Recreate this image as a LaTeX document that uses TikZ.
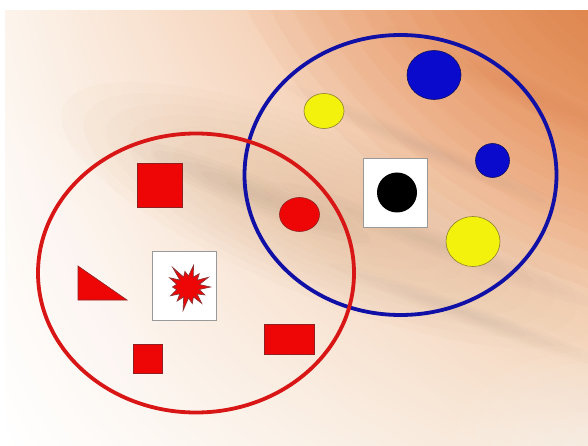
\documentclass[tikz,border=0pt]{standalone}
\usetikzlibrary{shadings}
\definecolor{bgUL}{HTML}{FCF4EC}
\definecolor{bgUR}{HTML}{EDA777}
\definecolor{bgLR}{HTML}{F6E4D2}
\definecolor{bgOr}{HTML}{E07A3E}
\definecolor{bgMid}{HTML}{DDB38D}
\definecolor{streak}{HTML}{A89280}
\definecolor{redF}{HTML}{EE0606}
\definecolor{redE}{HTML}{8E2020}
\definecolor{blueF}{HTML}{0A0ACC}
\definecolor{blueE}{HTML}{10105A}
\definecolor{yelF}{HTML}{F2F20C}
\definecolor{yelE}{HTML}{8C8030}
\definecolor{ringR}{HTML}{D81616}
\definecolor{ringB}{HTML}{1010A6}
\tikzset{
  ringred/.style={draw=ringR, line width=3.8pt},
  ringblue/.style={draw=ringB, line width=3.8pt},
  redshape/.style={fill=redF, draw=redE, line width=0.6pt},
  blueshape/.style={fill=blueF, draw=blueE, line width=0.6pt},
  yelshape/.style={fill=yelF, draw=yelE, line width=0.6pt},
  framebox/.style={fill=white, draw=gray!80, line width=0.8pt}
}
\begin{document}
\begin{tikzpicture}[x=1pt,y=-1pt]
\useasboundingbox (0,0) rectangle (588,446);
\fill[white] (0,0) rectangle (588,446);
% background
\begin{scope}
  \clip (5,11) rectangle (588,446);
  \shade[upper left=bgUL, upper right=bgUR, lower left=white, lower right=bgLR] (5,11) rectangle (588,446);
  % orange glow toward the upper right
  \foreach \s in {1,...,16}
    \fill[bgOr, fill opacity=0.06] (610,0) ellipse [x radius=27*\s, y radius=17*\s, rotate=-30];
  % warm middle band
  \foreach \s in {1,...,12}
    \fill[bgMid, fill opacity=0.05] (330,215) ellipse [x radius=24*\s, y radius=7*\s, rotate=-22];
  % faint streaks
  \foreach \s in {1,...,5}{
    \fill[streak, fill opacity=0.05] (250,192) ellipse [x radius=26*\s, y radius=3.5*\s, rotate=-22];
    \fill[streak, fill opacity=0.04] (440,245) ellipse [x radius=34*\s, y radius=2.5*\s, rotate=-21];
    \fill[streak, fill opacity=0.035] (470,315) ellipse [x radius=30*\s, y radius=2*\s, rotate=-20];
    \fill[streak, fill opacity=0.035] (430,150) ellipse [x radius=32*\s, y radius=2*\s, rotate=-24];
    \fill[bgOr, fill opacity=0.04] (520,90) ellipse [x radius=30*\s, y radius=3*\s, rotate=-25];
  }
  % whiter left and lower-left part
  \foreach \s in {1,...,10}
    \fill[white, fill opacity=0.09] (0,360) ellipse [x radius=16*\s, y radius=24*\s];
  \foreach \s in {1,...,8}
    \fill[white, fill opacity=0.06] (600,446) ellipse [x radius=18*\s, y radius=12*\s];
\end{scope}

% blue set
\draw[ringblue] (400.5,175) ellipse [x radius=156, y radius=140];
\filldraw[blueshape] (434,75) ellipse [x radius=27, y radius=24.5];
\filldraw[blueshape] (492.5,160.5) ellipse [x radius=17, y radius=17];
\filldraw[yelshape] (324,111) ellipse [x radius=20, y radius=17.5];
\filldraw[yelshape] (473,241.5) ellipse [x radius=27, y radius=25];
\filldraw[framebox] (363,158) rectangle (427,227);
\fill[black] (397,192.5) ellipse [x radius=20, y radius=20];

% red set
\draw[ringred] (196,273) ellipse [x radius=158, y radius=139.5];
\filldraw[redshape] (299.5,214.5) ellipse [x radius=20, y radius=17];
\filldraw[redshape] (137,163) rectangle (182,207);
\filldraw[redshape] (78,266) -- (78,300) -- (127,300) -- cycle;
\filldraw[redshape] (133,344) rectangle (162,373);
\filldraw[redshape] (264,324) rectangle (314,354);
\filldraw[framebox] (152,251) rectangle (216,320);
\begin{scope}[shift={(188.5,287)}]
  \filldraw[fill=redF, draw=redE!80!gray, line width=0.7pt]
    (0:22) -- (13:11)
    -- (26:18) -- (39:11)
    -- (51:21) -- (64:11)
    -- (77:17) -- (90:11)
    -- (103:24) -- (116:11)
    -- (129:18) -- (142:11)
    -- (154:20) -- (167:12)
    -- (180:16) -- (193:12)
    -- (206:21) -- (219:11)
    -- (231:25) -- (244:11)
    -- (257:16) -- (270:11)
    -- (283:22) -- (296:11)
    -- (309:17) -- (322:11)
    -- (334:22) -- (347:11)
    -- cycle;
\end{scope}
\end{tikzpicture}
\end{document}
